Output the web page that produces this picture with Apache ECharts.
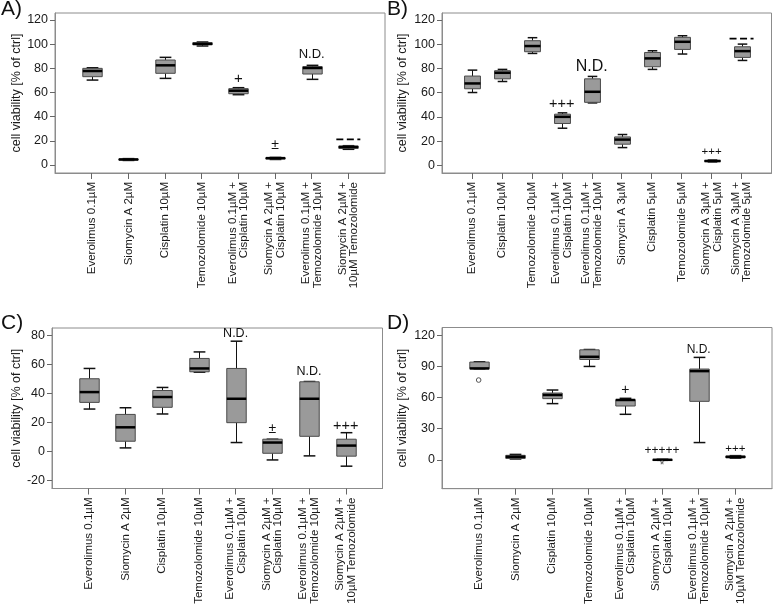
<!DOCTYPE html>
<html><head><meta charset="utf-8">
<script src="https://cdn.jsdelivr.net/npm/echarts@6/dist/echarts.min.js"></script>
<style>html,body{margin:0;padding:0;background:#fff}#c{width:773px;height:607px}</style>
</head><body><div id="c"></div><script>
// ---------- data ----------
const catsACD = ['Everolimus 0.1µM','Siomycin A 2µM','Cisplatin 10µM','Temozolomide 10µM',
  'Everolimus 0.1µM +\nCisplatin 10µM','Siomycin A 2µM +\nCisplatin 10µM',
  'Everolimus 0.1µM +\nTemozolomide 10µM','Siomycin A 2µM +\n10µM Temozolomide'];
const catsB = ['Everolimus 0.1µM','Cisplatin 10µM','Temozolomide 10µM',
  'Everolimus 0.1µM +\nCisplatin 10µM','Everolimus 0.1µM +\nTemozolomide 10µM',
  'Siomycin A 3µM','Cisplatin 5µM','Temozolomide 5µM',
  'Siomycin A 3µM +\nCisplatin 5µM','Siomycin A 3µM +\nTemozolomide 5µM'];
// [min, Q1, median, Q3, max]
const boxesA = [[70.3,73.1,77.8,80.0,80.5],[3.8,4.1,4.6,5.0,5.3],[71.7,75.9,82.5,86.9,89.1],
  [98.5,99.5,100.3,101.2,101.8],[58.2,59.0,61.5,63.2,64.0],[4.6,5.0,5.7,6.0,6.3],
  [70.9,75.3,80.3,81.4,82.5],[13.0,13.8,14.9,15.7,16.0]];
const boxesB = [[60.1,63.2,67.6,73.7,78.6],[69.2,71.4,76.4,78.1,79.2],[92.4,93.8,98.5,102.9,105.4],
  [30.6,34.5,40.0,42.2,43.3],[51.5,52.0,60.7,71.4,73.4],[14.6,17.4,21.2,23.4,25.4],
  [79.2,81.4,88.3,93.2,94.6],[91.9,95.7,102.0,105.7,107.0],[2.8,3.0,3.5,4.0,4.3],
  [86.6,89.1,94.3,97.9,100.1]];
const boxesC = [[29.1,33.7,40.8,50.0,57.1],[2.3,6.9,16.5,25.4,30.0],[25.7,30.3,37.4,41.9,44.0],
  [54.5,54.8,57.1,64.0,68.5],[6.0,19.7,36.2,57.1,75.9],[-6.0,-1.4,6.0,8.3,8.3],
  [-3.2,10.3,36.2,47.9,48.1],[-10.3,-3.4,3.9,8.3,12.8]];
const boxesD = [[87.7,87.7,88.0,94.1,94.4],[0.8,1.3,2.9,4.3,5.2],[54.1,58.9,62.4,64.3,67.2],
  [89.9,96.6,99.2,105.9,106.2],[43.8,51.8,57.6,57.9,59.2],[-0.5,-0.3,0,0.3,0.5],
  [16.6,56.3,85.4,87.4,98.6],[1.6,2.0,2.8,3.6,4.0]];
// annotations: [category index, value, text]
const annA = [[4,71.7,'+'],[5,16.5,'±'],[6,91.6,'N.D.'],[7,21.2,'dash']];
const annB = [[3,50.5,'+++'],[4,81.4,'N.D.'],[8,11.0,'+++'],[9,104.6,'dash']];
const annC = [[4,81.1,'N.D.'],[5,15.1,'±'],[6,55.2,'N.D.'],[7,17.2,'+++']];
const annD = [[4,67.2,'+'],[5,9.0,'+++++'],[6,105.6,'N.D.'],[7,10.2,'+++']];
// outliers: [category index, value, marker]
const outliersD = [[0,76.8,'o'],[5,-3.2,'*']];
// y ticks
const ticksA = [0,20,40,60,80,100,120];
const ticksB = [0,20,40,60,80,100,120];
const ticksC = [-20,0,20,40,60,80];
const ticksD = [0,30,60,90,120];
const yTitle = 'cell viability [% of ctrl]';
const panelLetters = ['A)','B)','C)','D)'];

// ---------- styling / layout ----------
const FONT = 'Arial';
const annSizesA = [15,14,13,0];
const annSizesB = [14.5,16,11.5,0];
const annSizesC = [12.5,14,12.5,14.5];
const annSizesD = [14,12,12,11.5];

const panels = [
  {cats:catsACD, boxes:boxesA, ann:annA, sizes:annSizesA, ticks:ticksA, range:[-6.6,125.8],
   grid:{left:55, top:13, width:330, height:160}, nameGap:30.5},
  {cats:catsB, boxes:boxesB, ann:annB, sizes:annSizesB, ticks:ticksB, range:[-6.4,125.8],
   grid:{left:442, top:13, width:329.5, height:160}, nameGap:32.5},
  {cats:catsACD, boxes:boxesC, ann:annC, sizes:annSizesC, ticks:ticksC, range:[-25.7,85.0],
   grid:{left:52, top:328, width:330.5, height:160.5}, nameGap:27.5},
  {cats:catsACD, boxes:boxesD, ann:annD, sizes:annSizesD, ticks:ticksD, range:[-27.8,127.4],
   grid:{left:442, top:327.5, width:330, height:162}, nameGap:32.5, outliers:outliersD}
];

function boxRender(params, api) {
  const x = api.value(0);
  const pMin = api.coord([x, api.value(1)]);
  const pQ1 = api.coord([x, api.value(2)]);
  const pMed = api.coord([x, api.value(3)]);
  const pQ3 = api.coord([x, api.value(4)]);
  const pMax = api.coord([x, api.value(5)]);
  const band = api.size([1, 0])[0];
  const bw = band * 0.53, cw = band * 0.32;
  const cx = Math.round(pMed[0]) + 0.5;
  return {type:'group', children:[
    {type:'line', shape:{x1:cx,y1:pMax[1],x2:cx,y2:pQ3[1]}, style:{stroke:'#111',lineWidth:1}},
    {type:'line', shape:{x1:cx,y1:pQ1[1],x2:cx,y2:pMin[1]}, style:{stroke:'#111',lineWidth:1}},
    {type:'line', shape:{x1:cx-cw/2,y1:pMax[1],x2:cx+cw/2,y2:pMax[1]}, style:{stroke:'#111',lineWidth:1.5}},
    {type:'line', shape:{x1:cx-cw/2,y1:pMin[1],x2:cx+cw/2,y2:pMin[1]}, style:{stroke:'#111',lineWidth:1.5}},
    {type:'rect', shape:{x:cx-bw/2, y:pQ3[1], width:bw, height:Math.max(pQ1[1]-pQ3[1],1)},
      style:{fill:'#9a9a9a', stroke:'#4a4a4a', lineWidth:1}},
    {type:'line', shape:{x1:cx-bw/2,y1:pMed[1],x2:cx+bw/2,y2:pMed[1]}, style:{stroke:'#000',lineWidth:2.5}}
  ]};
}

function annRender(ann, sizes) {
  return function(params, api) {
    const a = ann[params.dataIndex];
    const p = api.coord([api.value(0), api.value(1)]);
    if (a[2] === 'dash') {
      return {type:'line', shape:{x1:p[0]-12,y1:p[1],x2:p[0]+12,y2:p[1]},
        style:{stroke:'#000', lineWidth:1.8, lineDash:[7,3.5]}};
    }
    return {type:'text', x:p[0], y:p[1], style:{text:a[2], fontSize:sizes[params.dataIndex],
      fontFamily:FONT, fill:'#111', align:'center', verticalAlign:'middle'}};
  };
}

function outRender(outs) {
  return function(params, api) {
    const o = outs[params.dataIndex];
    const p = api.coord([api.value(0), api.value(1)]);
    if (o[2] === 'o') {
      return {type:'circle', shape:{cx:p[0], cy:p[1], r:2.3}, style:{fill:'#fff', stroke:'#555', lineWidth:1}};
    }
    return {type:'text', x:p[0], y:p[1]+3, style:{text:'*', fontSize:12, fontFamily:FONT,
      fill:'#555', align:'center', verticalAlign:'middle'}};
  };
}

const option = {animation:false, backgroundColor:'#fff', grid:[], xAxis:[], yAxis:[], series:[], graphic:[]};
const letterPos = [[1,-1],[387,-1],[1,313],[387,313]];
panels.forEach((pn, i) => {
  option.grid.push(Object.assign({show:true, borderColor:'#8c8c8c', borderWidth:1, backgroundColor:'#fff', containLabel:false}, pn.grid));
  option.xAxis.push({type:'category', gridIndex:i, boundaryGap:false, data:[''].concat(pn.cats).concat(['']),
    axisLine:{onZero:false, lineStyle:{color:'#8c8c8c'}},
    axisTick:{show:true, interval:(idx, val) => val !== '', length:6, lineStyle:{color:'#666'}},
    axisLabel:{interval:0, rotate:90, margin:9, fontSize:11.5, lineHeight:11.5, color:'#1a1a1a', fontFamily:FONT},
    splitLine:{show:false}});
  option.yAxis.push({type:'value', gridIndex:i, min:pn.range[0], max:pn.range[1],
    name:yTitle, nameLocation:'middle', nameGap:pn.nameGap,
    nameTextStyle:{fontSize:12.5, color:'#1a1a1a', fontFamily:FONT},
    axisLine:{show:true, onZero:false, lineStyle:{color:'#8c8c8c'}},
    axisTick:{show:true, length:5, customValues:pn.ticks, lineStyle:{color:'#666'}},
    axisLabel:{customValues:pn.ticks, fontSize:12.5, color:'#1a1a1a', margin:7, fontFamily:FONT},
    splitLine:{show:false}});
  option.series.push({type:'custom', xAxisIndex:i, yAxisIndex:i, renderItem:boxRender,
    encode:{x:0, y:[1,2,3,4,5]}, clip:false,
    data:pn.boxes.map((b, j) => [j + 1].concat(b))});
  option.series.push({type:'custom', xAxisIndex:i, yAxisIndex:i, renderItem:annRender(pn.ann, pn.sizes),
    encode:{x:0, y:1}, clip:false, z:5,
    data:pn.ann.map(a => [a[0] + 1, a[1]])});
  if (pn.outliers) {
    option.series.push({type:'custom', xAxisIndex:i, yAxisIndex:i, renderItem:outRender(pn.outliers),
      encode:{x:0, y:1}, clip:false, z:5,
      data:pn.outliers.map(o => [o[0] + 1, o[1]])});
  }
  option.graphic.push({type:'text', left:letterPos[i][0], top:letterPos[i][1],
    style:{text:panelLetters[i], fontSize:21, fontFamily:FONT, fill:'#111'}});
});

const chart = echarts.init(document.getElementById('c'), null, {renderer:'canvas'});
chart.setOption(option);
</script></body></html>
